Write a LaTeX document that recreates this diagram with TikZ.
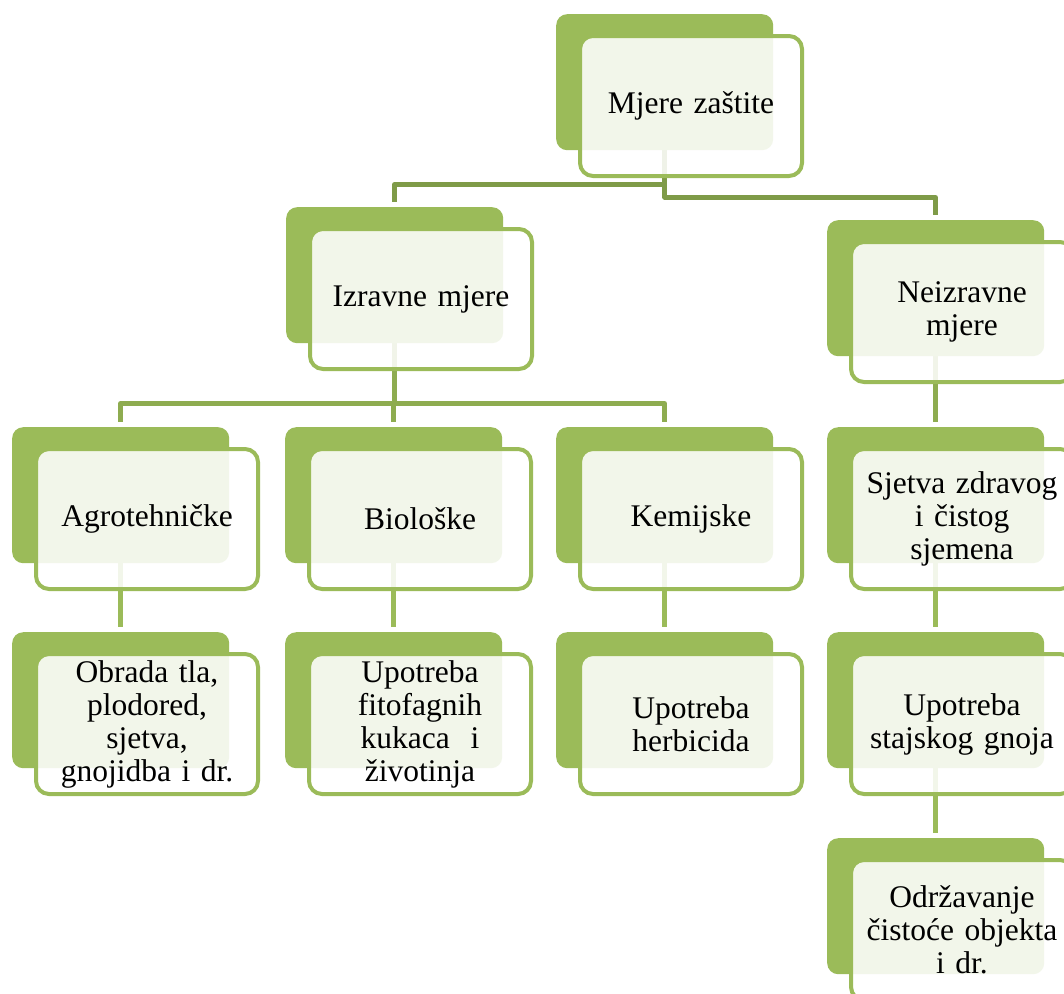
\documentclass[tikz,border=0pt]{standalone}
\usepackage{fontspec}
\setmainfont{Liberation Serif}
\definecolor{boxgreen}{HTML}{9BBB59}
\definecolor{lineA}{HTML}{7F9B48}
\definecolor{lineB}{HTML}{8EAC50}
\definecolor{lineC}{HTML}{9BBB59}
\pgfdeclarelayer{paper}
\pgfdeclarelayer{bg}
\pgfsetlayers{paper,bg,main}
\tikzset{
 backbox/.style={anchor=north west, fill=boxgreen, draw=none, rounded corners=11pt, minimum width=217pt, minimum height=136pt, inner sep=0pt},
 frontbox/.style={anchor=north west, draw=boxgreen, line width=4pt, fill=white, fill opacity=0.88, text opacity=1, rounded corners=13pt, minimum width=222pt, minimum height=140pt, inner sep=0pt, text width=218pt, align=center, font=\fontsize{31.5}{33}\selectfont},
 conn/.style={line width=4.5pt, shorten >=5pt, line join=round},
}
\newcommand\smbox[4]{%
 \node[backbox] (#1b) at (#2,#3) {};
 \node[frontbox] (#1) at (#2+22,#3+20) {#4};
}
\begin{document}
\begin{tikzpicture}[x=1pt,y=-1pt]
\clip (0,0) rectangle (1064,993);
\begin{pgfonlayer}{paper}
\fill[white] (0,0) rectangle (1064,993);
\end{pgfonlayer}
\smbox{root}{556}{14}{Mjere zaštite}
\smbox{iz}{286}{207}{Izravne mjere}
\smbox{ne}{827}{220}{Neizravne\\mjere}
\smbox{ag}{12}{427}{Agrotehničke}
\smbox{bi}{285}{427}{Biološke}
\smbox{ke}{556}{427}{Kemijske}
\smbox{sj}{827}{427}{Sjetva zdravog\\i čistog\\sjemena}
\smbox{ob}{12}{632}{Obrada tla,\\plodored,\\sjetva,\\gnojidba i dr.}
\smbox{up}{285}{632}{Upotreba\\fitofagnih\\kukaca\ \ i\\životinja}
\smbox{he}{556}{632}{Upotreba\\herbicida}
\smbox{st}{827}{632}{Upotreba\\stajskog gnoja}
\smbox{od}{827}{838}{Održavanje\\čistoće objekta\\i dr.}
\begin{pgfonlayer}{bg}
\draw[conn, lineA] (rootb.south) -- ++(0,34) -| (izb.north);
\draw[conn, lineA] (rootb.south) -- ++(0,47) -| (neb.north);
\draw[conn, lineB] (izb.south) -- ++(0,60) -| (agb.north);
\draw[conn, lineB] (izb.south) -- ++(0,60) -| (bib.north);
\draw[conn, lineB] (izb.south) -- ++(0,60) -| (keb.north);
\draw[conn, lineB] (neb.south) -- (sjb.north);
\draw[conn, lineC] (agb.south) -- (obb.north);
\draw[conn, lineC] (bib.south) -- (upb.north);
\draw[conn, lineC] (keb.south) -- (heb.north);
\draw[conn, lineC] (sjb.south) -- (stb.north);
\draw[conn, lineC] (stb.south) -- (odb.north);
\end{pgfonlayer}
\end{tikzpicture}
\end{document}
